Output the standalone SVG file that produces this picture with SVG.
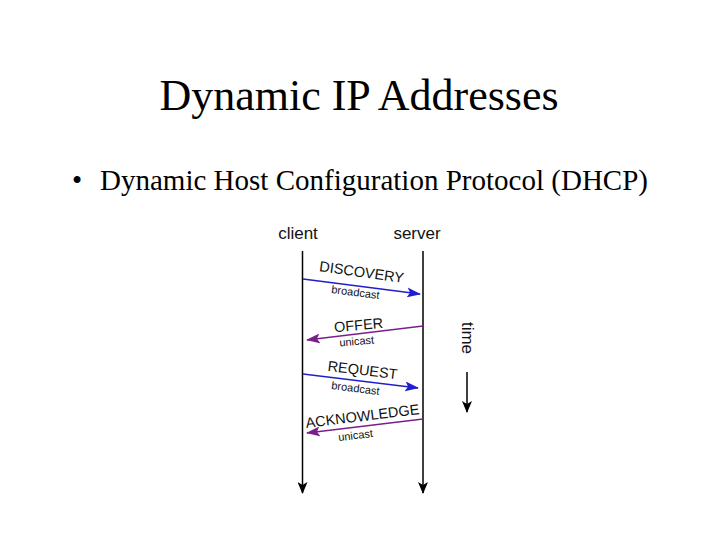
<svg xmlns="http://www.w3.org/2000/svg" width="720" height="540" viewBox="0 0 720 540">
<style>
.t{font-family:"Liberation Serif",serif;fill:#000}
.s{font-family:"Liberation Sans",sans-serif;fill:#111}
.big{font-size:14.5px}
.sm{font-size:11px}
.blk{stroke:#000;stroke-width:1.5;fill:none}
.blue{stroke:#1f1fd0;stroke-width:1.5;fill:none}
.purp{stroke:#7a1f8a;stroke-width:1.5;fill:none}
</style>
<defs>
<marker id="ab" markerWidth="12" markerHeight="10" refX="11" refY="5" orient="auto" markerUnits="userSpaceOnUse"><path d="M0,0 L12,5 L0,10 L3,5 Z" fill="#000"/></marker>
<marker id="abl" markerWidth="14" markerHeight="10" refX="13" refY="5" orient="auto" markerUnits="userSpaceOnUse"><path d="M0,0 L14,5 L0,10 L3,5 Z" fill="#1f1fd0"/></marker>
<marker id="apu" markerWidth="14" markerHeight="10" refX="13" refY="5" orient="auto" markerUnits="userSpaceOnUse"><path d="M0,0 L14,5 L0,10 L3,5 Z" fill="#7a1f8a"/></marker>
</defs>
<rect width="720" height="540" fill="#fff"/>
<text class="t" x="359" y="110" font-size="44" text-anchor="middle">Dynamic IP Addresses</text>
<text class="t" x="72" y="190" font-size="29">•</text>
<text class="t" x="100" y="190" font-size="29" textLength="548">Dynamic Host Configuration Protocol (DHCP)</text>
<g id="client"><text class="s" x="298" y="239" font-size="17" text-anchor="middle">client</text></g>
<g id="server"><text class="s" x="417" y="239" font-size="17" text-anchor="middle">server</text></g>
<g id="connectors">
<line class="blk" x1="302.5" y1="251" x2="302.5" y2="493" marker-end="url(#ab)"/>
<line class="blk" x1="423" y1="251" x2="423" y2="493" marker-end="url(#ab)"/>
<line class="blue" x1="303" y1="279" x2="420" y2="294" marker-end="url(#abl)"/>
<line class="purp" x1="423" y1="326" x2="307" y2="340" marker-end="url(#apu)"/>
<line class="blue" x1="303" y1="374" x2="418" y2="388" marker-end="url(#abl)"/>
<line class="purp" x1="423" y1="419" x2="307" y2="433" marker-end="url(#apu)"/>
<line class="blk" x1="467" y1="372" x2="467" y2="412" marker-end="url(#ab)"/>
</g>
<g id="labels">
<text class="s big" transform="translate(361,277) rotate(8)" text-anchor="middle">DISCOVERY</text>
<text class="s sm" transform="translate(355,296) rotate(7)" text-anchor="middle">broadcast</text>
<text class="s big" transform="translate(359,330) rotate(-5)" text-anchor="middle">OFFER</text>
<text class="s sm" transform="translate(357,345) rotate(-5)" text-anchor="middle">unicast</text>
<text class="s big" transform="translate(362,375) rotate(7)" text-anchor="middle">REQUEST</text>
<text class="s sm" transform="translate(355,392) rotate(7)" text-anchor="middle">broadcast</text>
<text class="s big" transform="translate(363,421) rotate(-7)" text-anchor="middle">ACKNOWLEDGE</text>
<text class="s sm" transform="translate(356,439) rotate(-7)" text-anchor="middle">unicast</text>
<text class="s" transform="translate(462,338) rotate(90)" font-size="17" text-anchor="middle">time</text>
</g>
</svg>
